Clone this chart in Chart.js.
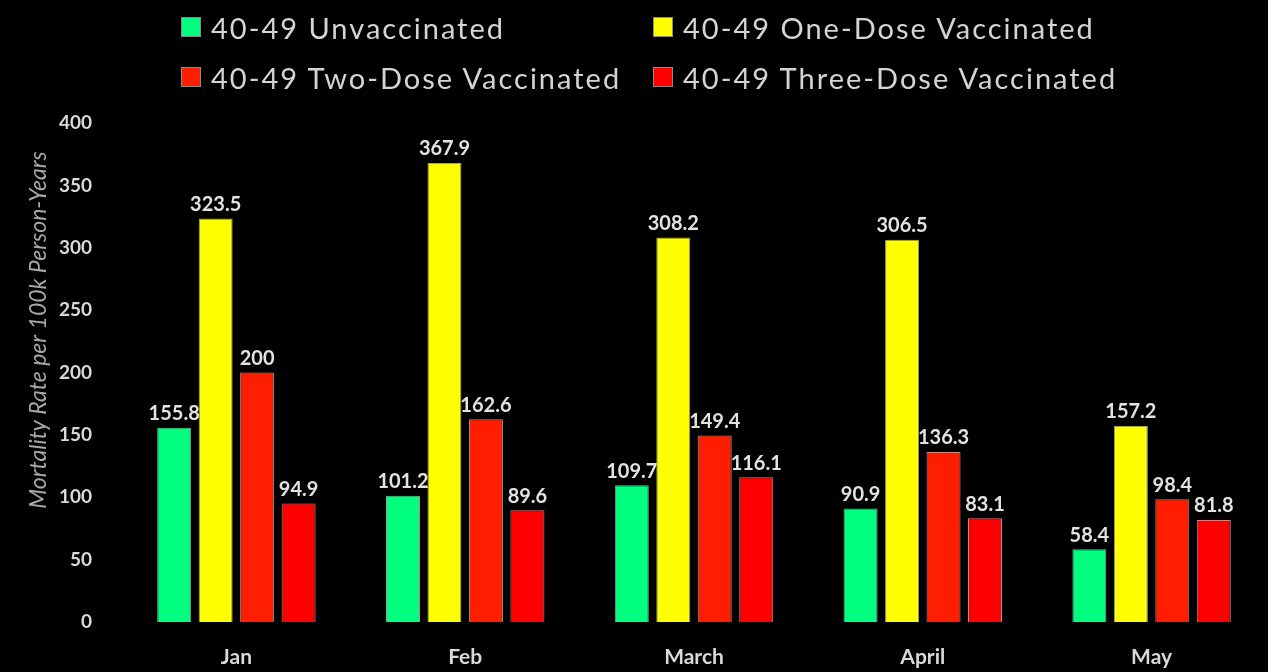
<!DOCTYPE html>
<html>
<head>
<meta charset="utf-8">
<script src="https://cdn.jsdelivr.net/npm/chart.js@4/dist/chart.umd.min.js"></script>
<style>
  html, body { margin: 0; padding: 0; background: #000; }
  #wrap { position: relative; width: 1268px; height: 672px; }
  #legend {
    position: absolute; left: 181px; top: 7px;
    display: grid; grid-template-columns: 472px auto; row-gap: 10px;
    font-family: Lato, sans-serif; font-size: 29px; letter-spacing: 2px; color: #d4d4d4;
  }
  #legend .item { display: flex; align-items: center; height: 40px; }
  #legend .box { width: 20px; height: 20px; border: 1px solid #8c8c8c; margin-right: 10px; box-sizing: border-box; }
</style>
</head>
<body>
<div id="wrap">
  <canvas id="mortChart" width="1268" height="672"></canvas>
  <div id="legend"></div>
</div>
<script>
const months = ['Jan', 'Feb', 'March', 'April', 'May'];
const unvaccinated = [155.8, 101.2, 109.7, 90.9, 58.4];
const oneDose = [323.5, 367.9, 308.2, 306.5, 157.2];
const twoDose = [200, 162.6, 149.4, 136.3, 98.4];
const threeDose = [94.9, 89.6, 116.1, 83.1, 81.8];
const seriesNames = ['40-49 Unvaccinated', '40-49 One-Dose Vaccinated', '40-49 Two-Dose Vaccinated', '40-49 Three-Dose Vaccinated'];
const seriesColors = ['#00ff7f', '#ffff00', '#ff1e00', '#ff0000'];
const yTitle = 'Mortality Rate per 100k Person-Years';

// value labels above each bar
const barLabels = {
    id: 'barLabels',
    afterDatasetsDraw(chart) {
        const ctx = chart.ctx;
        ctx.save();
        ctx.font = 'bold 20px Lato';
        ctx.fillStyle = '#e2e2e2';
        ctx.textAlign = 'center';
        ctx.textBaseline = 'bottom';
        chart.data.datasets.forEach((ds, i) => {
            chart.getDatasetMeta(i).data.forEach((bar, j) => {
                ctx.fillText(String(ds.data[j]), bar.x, bar.y - 4);
            });
        });
        ctx.restore();
    }
};

// y title sits a bit above the plot's centre in the original
const sideTitle = {
    id: 'sideTitle',
    afterDraw(chart) {
        const ctx = chart.ctx;
        ctx.save();
        ctx.translate(39, 330);
        ctx.rotate(-Math.PI / 2);
        ctx.font = 'italic 23px Lato';
        ctx.fillStyle = '#a8a8a8';
        ctx.textAlign = 'center';
        ctx.textBaseline = 'middle';
        ctx.fillText(yTitle, 0, 0);
        ctx.restore();
    }
};

const allSeries = [unvaccinated, oneDose, twoDose, threeDose];

const chart = new Chart(document.getElementById('mortChart'), {
    type: 'bar',
    data: {
        labels: months,
        datasets: allSeries.map((vals, i) => ({
            label: seriesNames[i],
            data: vals,
            backgroundColor: seriesColors[i],
            borderColor: '#9a9a9a',
            borderWidth: 1,
            categoryPercentage: 0.725,
            barPercentage: 0.82
        }))
    },
    options: {
        responsive: false,
        animation: false,
        events: [],
        layout: { padding: { top: 123, right: 2, bottom: 0, left: 0 } },
        scales: {
            y: {
                min: 0,
                max: 400,
                ticks: { stepSize: 50, color: '#d9d9d9', font: { family: 'Lato', size: 19, weight: 'bold' }, padding: 22 },
                grid: { display: false },
                border: { display: false },
                afterFit(scale) { scale.width = 122; }
            },
            x: {
                ticks: { color: '#d9d9d9', font: { family: 'Lato', size: 21, weight: 'bold' }, padding: 15 },
                grid: { display: false },
                border: { display: false },
                afterFit(scale) { scale.height = 50; }
            }
        },
        plugins: {
            legend: { display: false },
            tooltip: { enabled: false }
        }
    },
    plugins: [barLabels, sideTitle]
});

// legend laid out in two columns like the original
const legendEl = document.getElementById('legend');
chart.data.datasets.forEach(ds => {
    const item = document.createElement('div');
    item.className = 'item';
    const box = document.createElement('span');
    box.className = 'box';
    box.style.background = ds.backgroundColor;
    item.appendChild(box);
    item.appendChild(document.createTextNode(ds.label));
    legendEl.appendChild(item);
});
</script>
</body>
</html>
